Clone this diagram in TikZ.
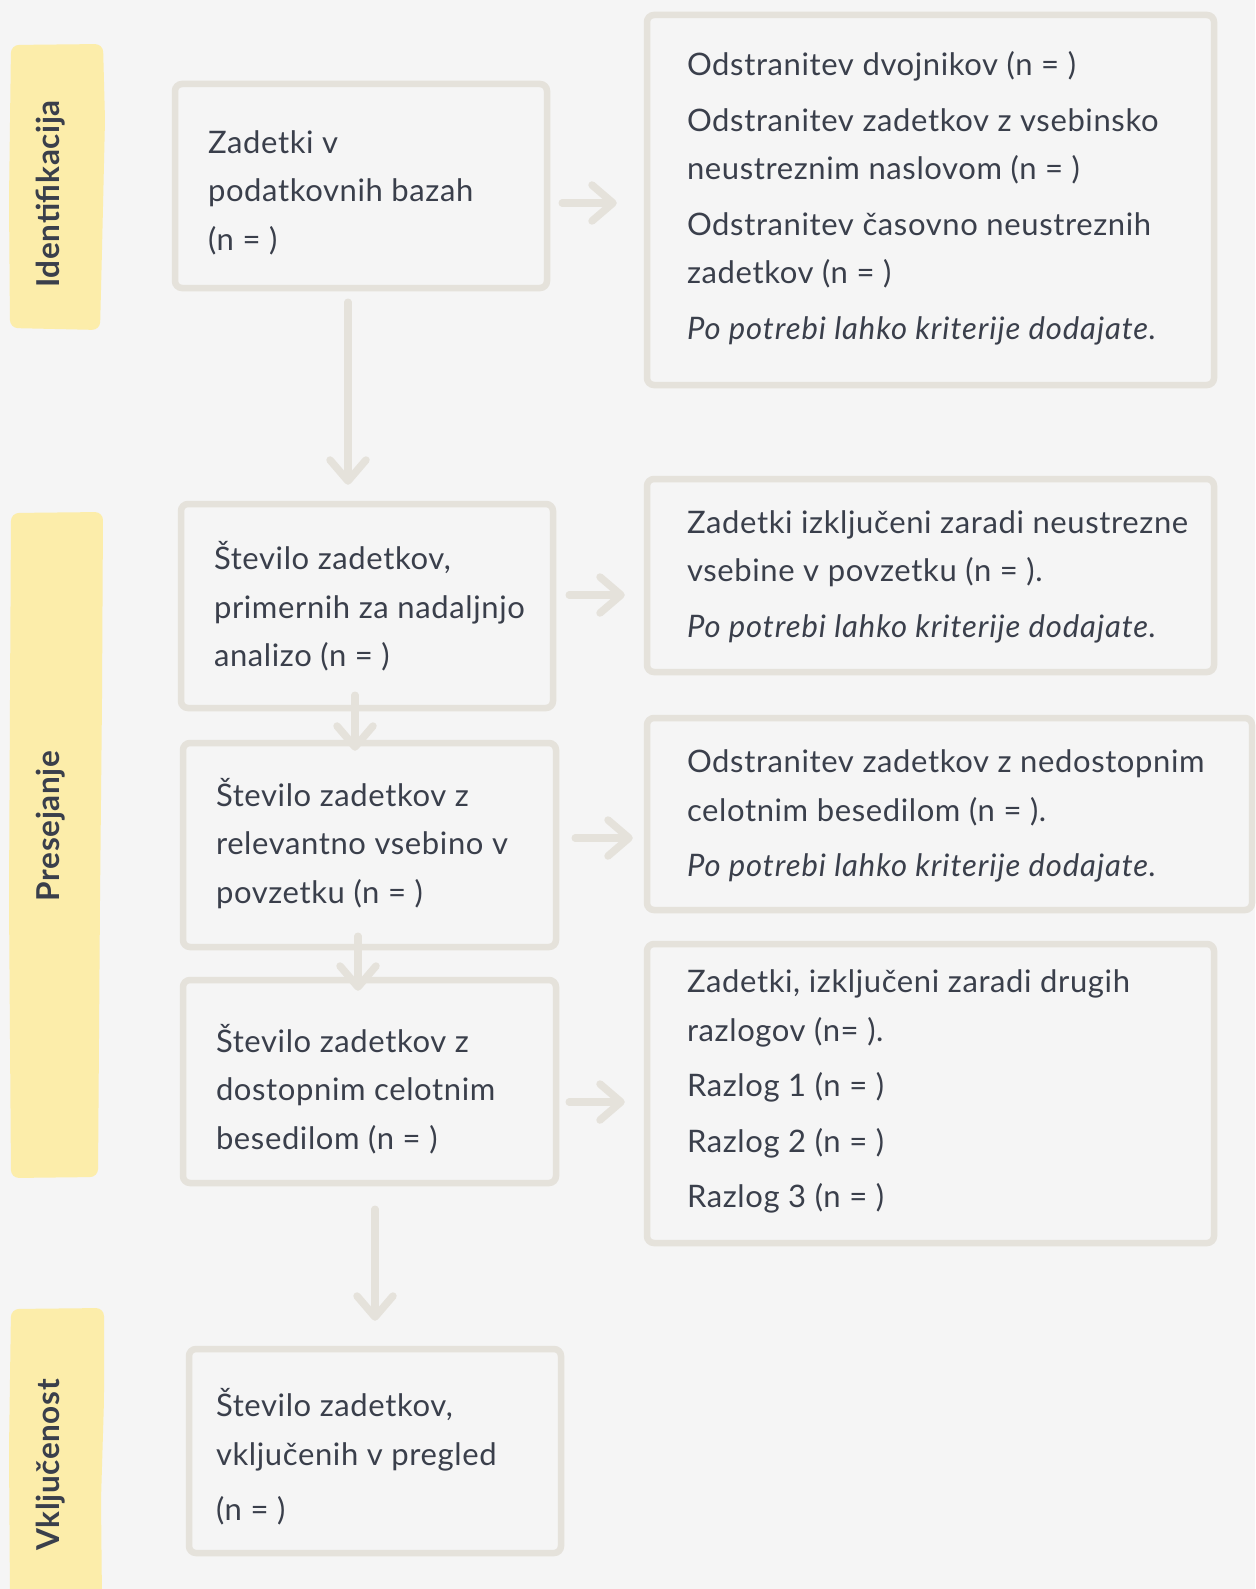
\documentclass[tikz,border=0pt]{standalone}
\usepackage{fontspec}
\setmainfont{Lato}[LetterSpace=2.0, ItalicFeatures={LetterSpace=3.0}]
\usetikzlibrary{arrows.meta,calc}
\definecolor{bg}{HTML}{F5F5F5}
\definecolor{edge}{HTML}{E5E2DB}
\definecolor{ink}{HTML}{3A3F4B}
\definecolor{band}{HTML}{FCEDAA}
\newcommand{\boxtext}[2]{\makebox[#1][l]{\begin{tabular}{@{}l@{}}#2\end{tabular}}}
\newcommand{\downby}[1]{\rule{0pt}{\dimexpr33.95pt+#1\relax}}
\newcommand{\upby}[1]{\rule[-\dimexpr14.55pt+#1\relax]{0pt}{0pt}}
\tikzset{
  box/.style={draw=edge, line width=6.5pt, rounded corners=7pt, fill=bg, text=ink,
    font=\fontsize{31pt}{48.5pt}\selectfont, inner ysep=0pt},
  lbox/.style={box, inner xsep=33pt},
  rbox/.style={box, inner xsep=40pt},
  arr/.style={draw=edge, line width=7.5pt, line cap=round, line join=round,
    -{Straight Barb[length=21pt,width=36pt,round]}},
  bandlabel/.style={rotate=90, text=ink, font=\fontsize{31.5pt}{36pt}\selectfont\bfseries, inner sep=0pt},
}
\begin{document}
\begin{tikzpicture}[x=1pt,y=-1pt]
\useasboundingbox (0,0) rectangle (1255,1589);
\fill[bg] (0,0) rectangle (1255,1589);
% bands
\fill[band, rounded corners=8pt] (11,45) -- (103,44) -- (105,120) -- (102,250) -- (100,330) -- (10,328) -- (9,200) -- cycle;
\fill[band, rounded corners=8pt] (11,513) -- (103,512) -- (102,700) -- (100,900) -- (98,1177) -- (11,1178) -- (9,900) -- (10,700) -- cycle;
\fill[band, rounded corners=8pt] (11,1309) -- (104,1308) -- (104,1400) -- (101,1500) -- (102,1600) -- (10,1600) -- (9,1450) -- cycle;
\node[bandlabel] (l1) at (51,194) {Identifikacija};
\node[bandlabel] (l2) at (51,826) {Presejanje};
\node[bandlabel] (l3) at (51,1465) {Vključenost};
% left boxes
\node[lbox, minimum height=204pt] (b1) at (361,186) {\boxtext{306pt}{\downby{12pt}Zadetki v\\podatkovnih bazah\\(n = )}};
\node[lbox, minimum height=204pt] (b2) at (367,606) {\boxtext{306pt}{\downby{5pt}Število zadetkov,\\primernih za nadaljnjo\\analizo (n = )}};
\node[lbox, minimum height=204pt] (b3) at (369.5,845) {\boxtext{307pt}{Število zadetkov z\\relevantno vsebino v\\povzetku (n = )}};
\node[lbox, minimum height=203pt] (b4) at (369.5,1081.5) {\boxtext{307pt}{\downby{19pt}Število zadetkov z\\dostopnim celotnim\\besedilom (n = )}};
\node[lbox, inner xsep=27pt, minimum height=204pt] (b5) at (375,1451) {\boxtext{318pt}{\downby{16pt}Število zadetkov,\\vključenih v pregled\\[7pt](n = )}};
% right boxes
\node[rbox, minimum height=370pt] (r1) at (930.5,200) {\boxtext{487pt}{Odstranitev dvojnikov (n = )\\[7pt]Odstranitev zadetkov z vsebinsko\\neustreznim naslovom (n = )\\[7pt]Odstranitev časovno neustreznih\\zadetkov (n = )\\[7pt]\itshape Po potrebi lahko kriterije dodajate.\upby{4pt}}};
\node[rbox, minimum height=193pt] (r2) at (930.5,575.5) {\boxtext{487pt}{Zadetki izključeni zaradi neustrezne\\vsebine v povzetku (n = ).\\[7pt]\itshape Po potrebi lahko kriterije dodajate.}};
\node[rbox, minimum height=192pt] (r3) at (949.5,814) {\boxtext{525pt}{\downby{2pt}Odstranitev zadetkov z nedostopnim\\celotnim besedilom (n = ).\\[7pt]\itshape Po potrebi lahko kriterije dodajate.}};
\node[rbox, minimum height=299pt] (r4) at (930.5,1093.5) {\boxtext{487pt}{Zadetki, izključeni zaradi drugih\\razlogov (n= ).\\[7pt]Razlog 1 (n = )\\[7pt]Razlog 2 (n = )\\[7pt]Razlog 3 (n = )\upby{6pt}}};
% right arrows
\draw[arr] ($(b1.east)+(12,17)$) -- ($(r1.west)+(-27,3)$);
\draw[arr] ($(b2.east)+(13,-11)$) -- ($(r2.west)+(-19,19.5)$);
\draw[arr] ($(b3.east)+(16,-7)$) -- ($(r3.west)+(-11,24)$);
\draw[arr] ($(b4.east)+(10,20.5)$) -- ($(r4.west)+(-19,8.5)$);
% down arrows
\draw[arr] ($(b1.south)+(-13,11)$) -- ($(b2.north)+(-19,-16)$);
\draw[arr] ($(b2.south)+(-12,-16)$) -- ($(b3.north)+(-14.5,11)$);
\draw[arr] ($(b3.south)+(-11.5,-14)$) -- ($(b4.north)+(-11.5,14)$);
\draw[arr] ($(b4.south)+(5.5,23)$) -- ($(b5.north)+(0,-25)$);
\end{tikzpicture}
\end{document}
